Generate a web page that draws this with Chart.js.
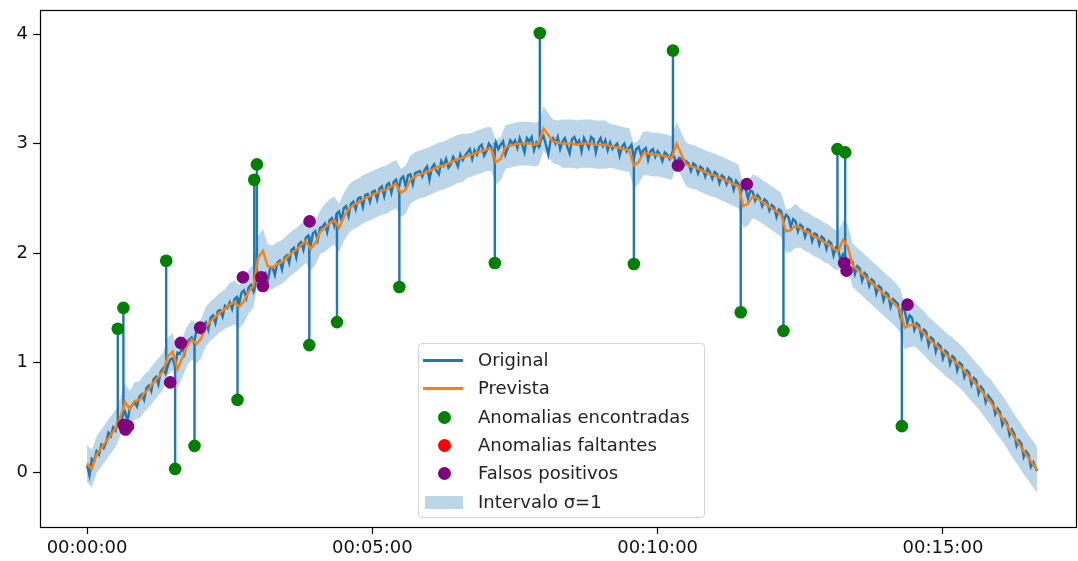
<!DOCTYPE html>
<html>
<head>
<meta charset="utf-8">
<script src="https://cdn.jsdelivr.net/npm/chart.js@4.4.1/dist/chart.umd.min.js"></script>
<style>
  body { margin: 0; background: #fff; }
  #wrap { position: relative; width: 1078px; height: 561px; }
  #legenda {
    position: absolute; left: 418px; top: 343px; width: 285px; height: 173px;
    border: 1px solid #d4d4d4; border-radius: 4px; background: rgba(255,255,255,0.85);
    font-family: 'DejaVu Sans', sans-serif; font-size: 18px; color: #222;
  }
  .item { position: absolute; left: 0; width: 285px; height: 28px; line-height: 28px; }
  .item span.txt { position: absolute; left: 59px; top: 0; white-space: nowrap; }
  .linha { position: absolute; left: 4px; top: 13px; width: 40px; height: 2.5px; }
  .ponto { position: absolute; left: 19px; top: 8px; width: 13px; height: 13px; border-radius: 50%; }
  .faixa { position: absolute; left: 6px; top: 8px; width: 38px; height: 13px; background: rgba(31,119,180,0.3); }
</style>
</head>
<body>
<div id="wrap">
  <canvas id="grafico" width="1078" height="561"></canvas>
  <div id="legenda"></div>
</div>
<script>
// tempos em segundos: original a cada 2,5 s, prevista a cada 5 s (ultima amostra em 999 s)
const temposOriginal = Array.from({ length: 400 }, (_, i) => i * 2.5).concat([999]);
const tempos = Array.from({ length: 200 }, (_, i) => i * 5).concat([999]);

// serie original, uma linha por 50 s
const original = [
  0.06, -0.03, 0.12, 0.10, 0.19, 0.16, 0.25, 0.22, 0.27, 0.36, 0.33, 0.41, 0.38, 0.47, 0.40, 0.52, 0.55, 0.46, 0.59, 0.61,
  0.64, 0.60, 0.69, 0.71, 0.66, 0.77, 0.79, 0.74, 0.85, 0.87, 0.80, 0.92, 0.95, 0.90, 0.97, 1.03, 1.04, 0.96, 1.09, 1.08,
  1.14, 1.08, 1.19, 1.21, 1.23, 1.18, 1.29, 1.30, 1.27, 1.35, 1.37, 1.30, 1.41, 1.43, 1.36, 1.47, 1.48, 1.42, 1.52, 1.50,
  1.55, 1.49, 1.58, 1.60, 1.54, 1.64, 1.66, 1.59, 1.69, 1.71, 1.65, 1.74, 1.76, 1.70, 1.80, 1.82, 1.75, 1.86, 1.87, 1.80,
  1.91, 1.93, 1.85, 1.96, 1.98, 1.91, 2.03, 2.05, 1.96, 2.08, 2.10, 2.03, 2.14, 2.16, 2.06, 2.18, 2.20, 2.12, 2.23, 2.24,
  2.27, 2.19, 2.30, 2.32, 2.25, 2.36, 2.38, 2.30, 2.41, 2.43, 2.34, 2.45, 2.47, 2.40, 2.50, 2.51, 2.42, 2.53, 2.54, 2.47,
  2.56, 2.57, 2.49, 2.59, 2.61, 2.52, 2.62, 2.64, 2.55, 2.65, 2.67, 2.58, 2.68, 2.70, 2.61, 2.71, 2.72, 2.63, 2.73, 2.74,
  2.75, 2.70, 2.76, 2.79, 2.67, 2.78, 2.81, 2.75, 2.72, 2.84, 2.80, 2.86, 2.78, 2.81, 2.88, 2.84, 2.79, 2.90, 2.85, 2.89,
  2.92, 2.95, 2.86, 2.94, 2.90, 2.97, 2.99, 2.89, 2.93, 3.00, 2.97, 2.88, 3.01, 2.95, 2.99, 3.02, 2.90, 2.96, 3.03, 3.00,
  3.03, 2.96, 3.05, 2.99, 2.92, 3.05, 3.02, 3.06, 2.94, 3.01, 2.97, 3.04, 3.07, 2.99, 2.90, 3.03, 3.05, 3.00, 3.06, 2.95,
  3.02, 3.05, 2.97, 2.91, 3.04, 3.06, 3.00, 3.03, 2.93, 3.05, 3.01, 2.96, 3.06, 3.04, 2.92, 3.01, 3.05, 2.98, 3.03, 2.94,
  3.01, 2.95, 2.98, 3.00, 2.89, 2.97, 3.00, 2.93, 2.96, 2.99, 2.87, 2.95, 2.97, 2.90, 2.94, 2.96, 2.85, 2.93, 2.95, 2.88,
  2.93, 2.90, 2.84, 2.92, 2.90, 2.86, 2.91, 2.88, 2.79, 2.87, 2.86, 2.80, 2.84, 2.82, 2.75, 2.82, 2.80, 2.73, 2.79, 2.77,
  2.70, 2.77, 2.74, 2.68, 2.74, 2.72, 2.64, 2.71, 2.69, 2.63, 2.69, 2.67, 2.58, 2.66, 2.63, 2.55, 2.61, 2.59, 2.50, 2.57,
  2.56, 2.48, 2.53, 2.50, 2.43, 2.49, 2.47, 2.39, 2.44, 2.42, 2.33, 2.40, 2.38, 2.29, 2.35, 2.33, 2.24, 2.31, 2.29, 2.20,
  2.26, 2.24, 2.15, 2.22, 2.21, 2.11, 2.18, 2.17, 2.08, 2.15, 2.13, 2.04, 2.11, 2.09, 1.98, 2.05, 2.03, 1.93, 1.99, 1.97,
  1.87, 1.94, 1.92, 1.81, 1.88, 1.86, 1.75, 1.82, 1.80, 1.70, 1.76, 1.74, 1.63, 1.70, 1.68, 1.57, 1.64, 1.62, 1.51, 1.58,
  1.56, 1.54, 1.43, 1.50, 1.47, 1.36, 1.43, 1.41, 1.30, 1.36, 1.34, 1.23, 1.30, 1.28, 1.16, 1.23, 1.21, 1.10, 1.17, 1.15,
  1.04, 1.11, 1.09, 0.99, 1.06, 1.04, 0.93, 1.00, 0.98, 0.87, 0.93, 0.91, 0.80, 0.86, 0.84, 0.72, 0.78, 0.75, 0.64, 0.70,
  0.67, 0.64, 0.53, 0.58, 0.55, 0.43, 0.48, 0.45, 0.34, 0.39, 0.35, 0.24, 0.29, 0.26, 0.14, 0.19, 0.16, 0.05, 0.09, 0.04,
  0.01
];

// serie prevista pelo modelo, a cada 5 s
const prevista = [
  0.08, 0.03, 0.16, 0.22, 0.28, 0.34, 0.40, 0.50, 0.64, 0.57,
  0.65, 0.66, 0.72, 0.76, 0.82, 0.87, 0.92, 1.06, 1.10, 0.94,
  1.04, 1.15, 1.21, 1.17, 1.22, 1.33, 1.38, 1.42, 1.46, 1.49,
  1.53, 1.55, 1.51, 1.56, 1.65, 1.70, 1.96, 2.02, 1.88, 1.87,
  1.90, 1.92, 1.96, 2.00, 2.03, 2.07, 2.11, 2.04, 2.09, 2.19,
  2.23, 2.27, 2.30, 2.23, 2.33, 2.40, 2.44, 2.46, 2.49, 2.51,
  2.53, 2.55, 2.57, 2.58, 2.61, 2.63, 2.55, 2.58, 2.67, 2.70,
  2.72, 2.73, 2.75, 2.77, 2.79, 2.80, 2.82, 2.84, 2.86, 2.87,
  2.89, 2.90, 2.92, 2.93, 2.95, 2.95, 2.83, 2.86, 2.97, 2.98,
  2.99, 3.00, 3.00, 3.00, 2.99, 3.00, 3.14, 3.08, 3.02, 3.01,
  3.00, 3.00, 3.00, 2.99, 3.00, 3.00, 3.00, 2.99, 2.99, 2.99,
  2.98, 2.97, 2.96, 2.95, 2.94, 2.80, 2.83, 2.91, 2.91, 2.90,
  2.90, 2.89, 2.88, 2.87, 3.00, 2.90, 2.81, 2.79, 2.78, 2.76,
  2.74, 2.72, 2.71, 2.69, 2.67, 2.65, 2.63, 2.61, 2.43, 2.45,
  2.52, 2.50, 2.47, 2.44, 2.41, 2.38, 2.35, 2.20, 2.21, 2.25,
  2.23, 2.20, 2.18, 2.15, 2.13, 2.10, 2.08, 2.04, 2.02, 2.12,
  2.06, 1.89, 1.85, 1.81, 1.77, 1.73, 1.69, 1.65, 1.61, 1.57,
  1.53, 1.48, 1.32, 1.34, 1.35, 1.31, 1.27, 1.22, 1.18, 1.14,
  1.10, 1.06, 1.03, 0.99, 0.95, 0.90, 0.85, 0.80, 0.75, 0.69,
  0.64, 0.58, 0.52, 0.46, 0.39, 0.32, 0.26, 0.19, 0.13, 0.07,
  0.02
];

// desvio padrao por janela de 50 s
const sigma = [0.17, 0.17, 0.18, 0.20, 0.20, 0.22, 0.22, 0.22, 0.20, 0.20,
               0.22, 0.20, 0.20, 0.20, 0.20, 0.18, 0.20, 0.20, 0.20, 0.21];

// anomalias encontradas
const anomaliasT = [32.3, 38.2, 83.2, 92.6, 113.0, 158.2, 175.8, 178.6, 233.7, 262.8,
                    328.4, 428.8, 476.1, 575.0, 616.1, 687.4, 732.3, 789.1, 797.2, 856.8];
const anomaliasY = [1.31, 1.50, 1.93, 0.03, 0.24, 0.66, 2.67, 2.81, 1.16, 1.37,
                    1.69, 1.91, 4.01, 1.90, 3.85, 1.46, 1.29, 2.95, 2.92, 0.42];

// anomalias faltantes (nenhuma)
const faltantesT = [];
const faltantesY = [];

// falsos positivos
const falsosT = [38.5, 40.5, 43.0, 87.4, 98.6, 118.9, 163.9, 183.2, 184.9, 234.0,
                 621.4, 693.7, 796.1, 798.6, 862.8];
const falsosY = [0.43, 0.39, 0.42, 0.82, 1.18, 1.32, 1.78, 1.78, 1.70, 2.29,
                 2.80, 2.63, 1.91, 1.84, 1.53];

const xTicks = [0, 300, 600, 900];
const yTicks = [0, 1, 2, 3, 4];

// formata segundos como HH:MM:SS
function formatarTempo(v) {
  const h = Math.floor(v / 3600);
  const m = Math.floor((v % 3600) / 60);
  const s = Math.round(v % 60);
  return [h, m, s].map(n => String(n).padStart(2, '0')).join(':');
}

function pares(xs, ys) {
  return xs.map((x, i) => ({ x: x, y: ys[i] }));
}

const sigmaEm = t => sigma[Math.min(Math.floor(t / 50), sigma.length - 1)];
const faixaSup = tempos.map((t, i) => ({ x: t, y: prevista[i] + sigmaEm(t) }));
const faixaInf = tempos.map((t, i) => ({ x: t, y: prevista[i] - sigmaEm(t) }));

// linhas verticais dos picos (saem da serie original ate o valor anomalo)
const picos = [];
anomaliasT.forEach((t, i) => {
  const idx = Math.min(Math.round(t / 2.5), original.length - 1);
  picos.push({ x: t, y: original[idx] }, { x: t, y: anomaliasY[i] }, { x: t, y: null });
});

// moldura completa em volta da area do grafico
const moldura = {
  id: 'moldura',
  afterDraw(chart) {
    const { ctx, chartArea: a } = chart;
    ctx.save();
    ctx.strokeStyle = '#000';
    ctx.lineWidth = 1.2;
    ctx.strokeRect(a.left + 0.5, a.top + 0.5, a.right - a.left - 1, a.bottom - a.top - 1);
    ctx.restore();
  }
};

// tira o espaco extra que o Chart.js reserva para os rotulos das pontas
function semPadding(s) {
  s.paddingTop = 0; s.paddingBottom = 0; s.paddingLeft = 0; s.paddingRight = 0;
}

Chart.defaults.font.family = "'DejaVu Sans', sans-serif";
Chart.defaults.font.size = 18;

const azul = '#1f77b4';
const laranja = '#ff7f0e';

new Chart(document.getElementById('grafico'), {
  type: 'line',
  data: {
    datasets: [
      { label: 'Intervalo σ=1', data: faixaSup, fill: '+1', backgroundColor: 'rgba(31,119,180,0.3)',
        borderColor: 'transparent', borderWidth: 0, pointRadius: 0, order: 10 },
      { label: 'inf', data: faixaInf, fill: false, borderColor: 'transparent', borderWidth: 0,
        pointRadius: 0, order: 11 },
      { label: 'Original', data: pares(temposOriginal, original), borderColor: azul, borderWidth: 2.4,
        pointRadius: 0, fill: false, order: 4 },
      { label: 'picos', data: picos, borderColor: azul, borderWidth: 2.4, pointRadius: 0,
        spanGaps: false, fill: false, order: 3 },
      { label: 'Prevista', data: pares(tempos, prevista), borderColor: laranja, borderWidth: 2.4,
        pointRadius: 0, fill: false, order: 2 },
      { type: 'scatter', label: 'Anomalias encontradas', data: pares(anomaliasT, anomaliasY),
        backgroundColor: '#008000', borderWidth: 0, pointRadius: 6.3, order: 1 },
      { type: 'scatter', label: 'Anomalias faltantes', data: pares(faltantesT, faltantesY),
        backgroundColor: '#ff0000', borderWidth: 0, pointRadius: 6.3, order: 1 },
      { type: 'scatter', label: 'Falsos positivos', data: pares(falsosT, falsosY),
        backgroundColor: '#800080', borderWidth: 0, pointRadius: 6.3, order: 0 }
    ]
  },
  options: {
    responsive: false,
    animation: false,
    devicePixelRatio: 1,
    layout: { autoPadding: false, padding: { top: 10, right: 1, left: 0, bottom: 0 } },
    plugins: { legend: { display: false }, tooltip: { enabled: false } },
    scales: {
      x: {
        type: 'linear', min: -49.5, max: 1041,
        afterBuildTicks: s => { s.ticks = xTicks.map(v => ({ value: v })); },
        afterFit: s => { s.height = 33; semPadding(s); },
        ticks: { callback: v => formatarTempo(v), padding: 4, color: '#111', maxRotation: 0, autoSkip: false },
        grid: { drawOnChartArea: false, tickLength: 6, tickColor: '#000', tickWidth: 1.2 },
        border: { display: false }
      },
      y: {
        min: -0.51, max: 4.22,
        afterBuildTicks: s => { s.ticks = yTicks.map(v => ({ value: v })); },
        afterFit: s => { s.width = 40; semPadding(s); },
        ticks: { callback: v => String(v), padding: 5, color: '#111' },
        grid: { drawOnChartArea: false, tickLength: 7, tickColor: '#000', tickWidth: 1.2 },
        border: { display: false }
      }
    }
  },
  plugins: [moldura]
});

// legenda dentro da area do grafico
const itensLegenda = [
  { tipo: 'linha', cor: azul, texto: 'Original' },
  { tipo: 'linha', cor: laranja, texto: 'Prevista' },
  { tipo: 'ponto', cor: '#008000', texto: 'Anomalias encontradas' },
  { tipo: 'ponto', cor: '#ff0000', texto: 'Anomalias faltantes' },
  { tipo: 'ponto', cor: '#800080', texto: 'Falsos positivos' },
  { tipo: 'faixa', cor: null, texto: 'Intervalo σ=1' }
];
const legenda = document.getElementById('legenda');
itensLegenda.forEach((item, i) => {
  const linha = document.createElement('div');
  linha.className = 'item';
  linha.style.top = (2 + i * 28.3) + 'px';
  const sw = document.createElement('span');
  sw.className = item.tipo;
  if (item.cor) sw.style.background = item.cor;
  const txt = document.createElement('span');
  txt.className = 'txt';
  txt.textContent = item.texto;
  linha.appendChild(sw);
  linha.appendChild(txt);
  legenda.appendChild(linha);
});
</script>
</body>
</html>
